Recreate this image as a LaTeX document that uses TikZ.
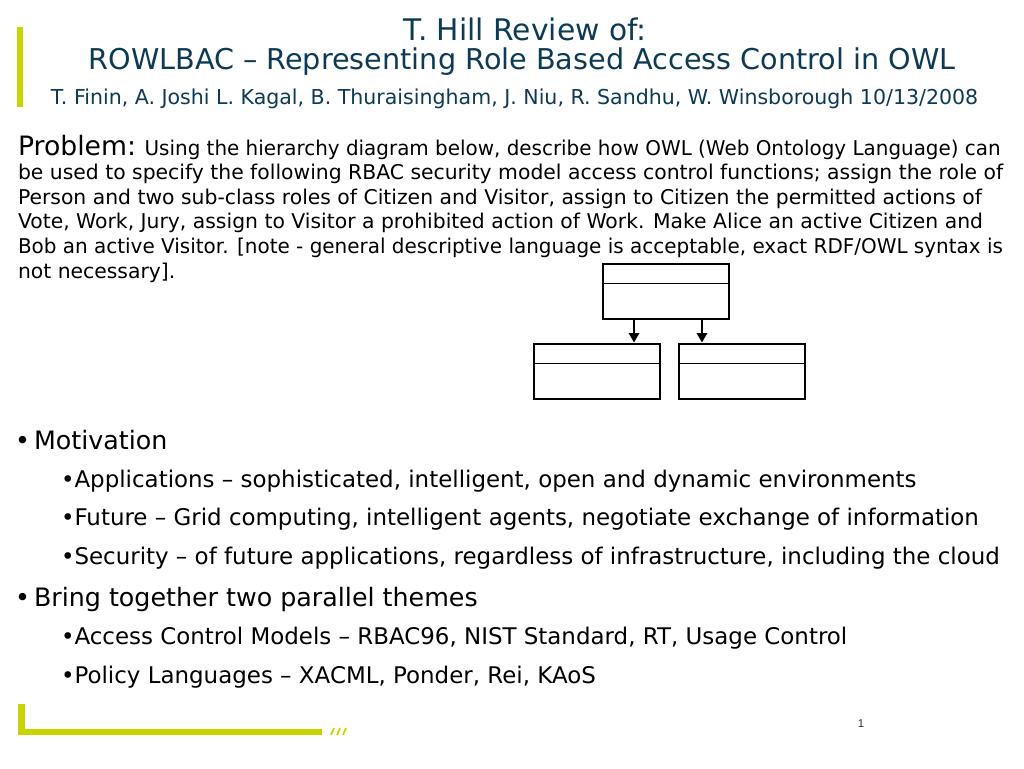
\documentclass[tikz,border=0pt]{standalone}
\usepackage{fontspec}
\setmainfont{DejaVu Sans}
\newfontfamily\pnum{Liberation Sans}
\usetikzlibrary{arrows.meta}
\definecolor{titleblue}{HTML}{0D3A55}
\definecolor{lime}{HTML}{C8D400}
\definecolor{pgray}{HTML}{333333}
\tikzset{
  txt/.style={anchor=base west, inner sep=0pt, outer sep=0pt},
  ttl/.style={anchor=base, inner sep=0pt, text=titleblue},
  body/.style={txt, font=\fontsize{15.26pt}{18pt}\selectfont},
  lone/.style={txt, font=\fontsize{19pt}{22pt}\selectfont},
  ltwo/.style={txt, font=\fontsize{17.2pt}{20pt}\selectfont},
  classbox/.style={draw=black, line width=2.2pt, minimum width=94.5pt, minimum height=41.25pt, inner sep=0pt, fill=white},
  divider/.style={draw=black, line width=1.1pt},
  arr/.style={draw=black, line width=2.2pt, -{Triangle[width=7.5pt,length=7pt]}},
}
\begin{document}
\begin{tikzpicture}[x=0.75pt,y=-0.75pt]
\useasboundingbox[fill=white] (0,0) rectangle (1024,768);
% decorations
\fill[lime] (17,27) rectangle (23,107);
\fill[lime] (18,704) rectangle (25,735);
\fill[lime] (18,729) rectangle (322,735);
\foreach \sx in {331,337,343}{\draw[lime, line width=1.3pt] (\sx,735) -- (\sx+3,728);}
% title
\node[ttl, font=\fontsize{22.3pt}{26pt}\selectfont] (t1) at (525,40) {T. Hill Review of:};
\node[ttl, font=\fontsize{21.5pt}{26pt}\selectfont] (t2) at (522,69) {ROWLBAC – Representing Role Based Access Control in OWL};
\node[ttl, font=\fontsize{15.4pt}{18pt}\selectfont] (au) at (514.5,104) {T. Finin, A. Joshi L. Kagal, B. Thuraisingham, J. Niu, R. Sandhu, W. Winsborough 10/13/2008};
% problem text
\node[body] (p1) at (18,155) {{\fontsize{20pt}{22pt}\selectfont Problem:} \scalebox{0.979}[1]{Using the hierarchy diagram below, describe how OWL (Web Ontology Language) can}};
\node[body] (p2) at (18,179.6) {be used to specify the following RBAC security model access control functions; assign the role of};
\node[body] (p3) at (18,204.2) {Person and two sub-class roles of Citizen and Visitor, assign to Citizen the permitted actions of};
\node[body] (p4) at (18,228.8) {Vote, Work, Jury, assign to Visitor a prohibited action of Work. Make Alice an active Citizen and};
\node[body] (p5) at (18,253.4) {\scalebox{0.981}[1]{Bob an active Visitor. [note - general descriptive language is acceptable, exact RDF/OWL syntax is}};
\node[body] (p6) at (18,278) {not necessary].};
% hierarchy diagram
\node[classbox] (top) at (666,291.5) {};
\node[classbox] (bl) at (597,371.5) {};
\node[classbox] (br) at (742,371.5) {};
\draw[divider] ([yshift=-15.75pt]top.north west) -- ([yshift=-15.75pt]top.north east);
\draw[divider] ([yshift=-15.75pt]bl.north west) -- ([yshift=-15.75pt]bl.north east);
\draw[divider] ([yshift=-15.75pt]br.north west) -- ([yshift=-15.75pt]br.north east);
\coordinate (la) at (634,0);
\coordinate (ra) at (702,0);
\draw[arr] (top.south -| la) -- (bl.north -| la);
\draw[arr] (top.south -| ra) -- (br.north -| ra);
% bullets
\node[lone] (d1) at (15,449) {•};
\node[lone] (b1) at (34,449) {Motivation};
\node[ltwo] (b11) at (61,487) {•Applications – sophisticated, intelligent, open and dynamic environments};
\node[ltwo] (b12) at (61,525.5) {•Future – Grid computing, intelligent agents, negotiate exchange of information};
\node[ltwo] (b13) at (61,564) {•Security – of future applications, regardless of infrastructure, including the cloud};
\node[lone] (d2) at (15,606) {•};
\node[lone] (b2) at (34,606) {Bring together two parallel themes};
\node[ltwo] (b21) at (61,644.5) {•Access Control Models – RBAC96, NIST Standard, RT, Usage Control};
\node[ltwo] (b22) at (61,683) {•Policy Languages – XACML, Ponder, Rei, KAoS};
% page number
\node[anchor=base, inner sep=0pt, text=pgray, font=\pnum\fontsize{8.5pt}{10pt}\selectfont] (pn) at (861,727) {1};
\end{tikzpicture}
\end{document}
